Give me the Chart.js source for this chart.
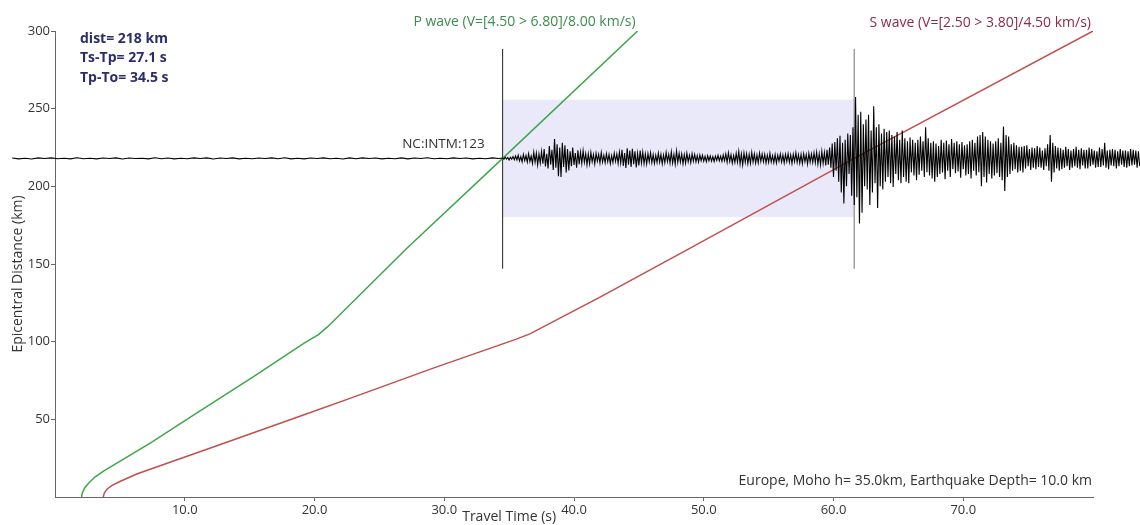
<!DOCTYPE html>
<html>
<head>
<meta charset="utf-8">
<script src="https://cdn.jsdelivr.net/npm/chart.js@4/dist/chart.umd.min.js"></script>
<style>
  html, body { margin: 0; padding: 0; background: #fff; }
  #wrap { width: 1140px; height: 525px; }
</style>
</head>
<body>
<div id="wrap"><canvas id="chart"></canvas></div>
<script>
// travel-time curves (time s, distance km)
const pTime = [2.05, 2.12, 2.3, 2.6, 3.1, 3.8, 7.4, 11.0, 15.3, 19.2, 20.3, 21.0, 27.1, 34.5, 44.9];
const pDist = [0, 3, 6, 9, 13, 17, 35, 54.5, 77.5, 99, 104.5, 109.5, 160, 218, 300];
const sTime = [3.72, 3.8, 4.0, 4.4, 5.0, 6.35, 12.8, 19.2, 23.0, 29.1, 35.5, 36.6, 41.9, 48.6, 61.6, 80.0];
const sDist = [0, 2.5, 5, 7.5, 10, 15, 34, 53, 64.3, 82.8, 101.5, 105, 128.2, 158.6, 218, 300];

// station + picks
const stationName = 'NC:INTM:123';
const stationDist = 218;
const pPick = 34.5;
const sPick = 61.6;
const pickLow = 147;
const pickHigh = 288.5;
const windowLow = 180.2;
const windowHigh = 255.7;

// seismogram, amplitude in km around the station distance
const noiseStart = -3.3;
const noiseStep = 0.5;
const noiseAmp = [
  0.2,-0.3,0.1,-0.4,0.3,-0.1,0.3,-0.2,0.1,-0.3,
  0.4,-0.2,0.1,-0.3,0.2,-0.1,0.3,-0.4,0.2,-0.1,
  0.1,-0.3,0.4,-0.2,0.2,-0.3,0.1,-0.2,0.3,-0.1,
  0.3,-0.4,0.2,-0.1,0.3,-0.3,0.1,-0.2,0.2,-0.1,
  0.3,-0.2,0.4,-0.3,0.1,-0.3,0.2,-0.1,0.3,-0.2,
  0.1,-0.4,0.3,-0.2,0.3,-0.1,0.2,-0.3,0.1,-0.2,
  0.3,-0.3,0.2,-0.1,0.4,-0.2,0.1,-0.2,0.3,-0.1,
  0.2,-0.3,0.1,-0.2,0.3,-0.1
];
const traceStart = 34.5;
const traceStep = 0.1;
const traceAmp = [
  0.2,-0.5,0.8,-0.4,0.6,-1.0,0.7,-0.5,1.2,-0.8,
  1.5,-1.0,2.0,-1.6,1.2,-2.2,2.6,-1.4,1.8,-2.4,
  3.0,-2.0,1.5,-3.2,4.0,-2.5,3.4,-4.2,2.8,-3.0,
  4.5,-3.5,6.0,-5.2,3.0,-6.5,8.0,-4.0,5.5,-7.5,
  12.5,-6.0,9.0,-11.5,7.0,-12.0,10.0,-5.5,8.5,-9.0,
  6.0,-7.8,4.5,-5.0,7.0,-4.2,3.5,-6.0,5.2,-3.8,
  4.0,-3.2,5.0,-2.5,3.0,-4.2,2.8,-3.5,3.8,-2.2,
  2.5,-3.6,3.2,-1.8,2.6,-3.0,3.8,-2.4,2.0,-2.8,
  3.0,-2.2,2.5,-3.4,1.8,-2.6,3.3,-2.0,2.8,-3.2,
  4.0,-3.0,5.5,-4.8,3.5,-6.2,6.5,-4.0,5.0,-5.5,
  6.2,-3.8,4.5,-5.8,3.2,-4.5,5.0,-3.0,4.0,-3.5,
  2.8,-3.6,3.0,-2.2,3.6,-2.8,2.4,-3.2,2.0,-2.6,
  3.4,-2.4,2.6,-3.5,2.2,-2.8,3.8,-2.0,2.6,-3.0,
  4.2,-3.0,2.5,-3.8,4.8,-2.6,3.2,-2.4,2.8,-3.4,
  2.4,-3.0,3.3,-2.2,2.0,-2.8,3.0,-1.8,2.5,-2.2,
  1.8,-2.4,2.2,-1.5,2.0,-1.8,1.4,-2.2,1.8,-1.5,
  1.6,-1.8,1.2,-2.0,1.5,-1.3,2.0,-1.6,1.4,-1.9,
  2.2,-1.6,2.8,-2.5,3.6,-2.0,2.4,-3.0,1.8,-2.6,
  3.2,-2.4,4.5,-3.6,2.8,-4.2,3.5,-2.6,3.0,-3.4,
  2.6,-3.2,3.8,-2.4,2.8,-3.0,2.2,-2.8,3.4,-2.0,
  2.8,-2.2,2.5,-3.0,2.0,-2.6,3.2,-2.4,1.8,-2.8,
  2.4,-3.0,2.0,-1.8,2.8,-2.4,2.2,-2.9,2.6,-2.0,
  3.0,-2.5,2.2,-3.3,2.7,-2.0,3.6,-2.6,2.4,-3.0,
  2.6,-3.4,3.0,-2.2,2.5,-3.6,3.2,-2.4,2.8,-2.6,
  3.5,-2.8,4.0,-3.6,3.0,-4.2,4.5,-3.2,3.8,-4.5,
  5.5,-4.0,7.0,-6.0,9.5,-12.0,10.5,-8.0,13.0,-15.0,
  14.5,-22.0,10.0,-29.0,12.0,-18.0,16.0,-10.0,15.0,-24.0,
  20.0,-30.0,39.5,-25.0,28.0,-42.0,30.0,-35.0,22.0,-18.0,
  25.0,-20.0,28.0,-30.0,18.0,-22.0,33.5,-16.0,20.0,-32.0,
  22.0,-18.0,16.0,-20.0,19.0,-15.0,17.0,-12.0,18.0,-16.0,
  15.0,-18.5,14.0,-10.0,17.0,-14.0,12.0,-16.0,18.0,-12.0,
  13.0,-15.0,11.0,-16.0,13.5,-9.0,12.0,-11.0,10.0,-14.0,
  12.0,-10.5,14.0,-8.0,11.0,-12.0,20.0,-9.0,13.0,-11.0,
  10.0,-13.0,11.0,-15.0,9.5,-12.0,8.0,-10.0,12.0,-9.0,
  10.0,-13.5,11.5,-8.0,9.0,-12.0,12.5,-7.0,10.0,-9.5,
  11.0,-8.5,9.0,-12.5,10.5,-7.0,8.5,-11.0,9.0,-10.0,
  11.0,-13.0,12.0,-8.0,10.0,-11.0,14.0,-9.0,15.0,-18.0,
  17.0,-12.0,14.0,-15.5,12.0,-10.0,11.0,-13.0,9.5,-11.0,
  11.0,-9.5,13.0,-12.0,10.0,-14.0,20.5,-21.0,15.0,-12.0,
  14.0,-10.0,9.0,-8.0,10.0,-7.0,8.5,-9.0,7.5,-8.0,
  7.5,-9.0,8.0,-6.5,8.5,-5.0,6.0,-7.5,7.0,-6.0,
  6.5,-7.0,8.0,-5.5,7.0,-6.0,5.0,-7.5,6.5,-5.0,
  9.0,-8.0,15.0,-15.0,10.0,-9.0,8.0,-6.5,7.0,-8.0,
  6.5,-7.0,5.5,-6.0,7.5,-5.0,6.0,-7.5,5.0,-6.0,
  6.0,-5.0,7.5,-6.0,5.5,-7.0,6.5,-4.5,5.5,-6.5,
  5.5,-6.5,7.0,-5.0,6.0,-4.0,5.0,-6.0,4.5,-5.5,
  7.0,-5.5,6.0,-4.5,10.0,-6.0,5.0,-7.0,5.5,-4.5,
  6.0,-5.0,5.5,-6.5,4.5,-5.0,6.0,-4.0,5.0,-5.5,
  5.0,-6.0,4.5,-5.0,6.0,-4.5,5.5,-4.0,5.0,-6.0,
  4.5,-5.0
];

const xMin = 0, xMax = 80, xStep = 10;
const yMin = 0, yMax = 300, yStep = 50;

const pLabel = 'P wave (V=[4.50 > 6.80]/8.00 km/s)';
const sLabel = 'S wave (V=[2.50 > 3.80]/4.50 km/s)';
const infoLines = ['dist= 218 km', 'Ts-Tp= 27.1 s', 'Tp-To= 34.5 s'];
const modelText = 'Europe, Moho h= 35.0km, Earthquake Depth= 10.0 km';
const xTitle = 'Travel Time (s)';
const yTitle = 'Epicentral Distance (km)';

const FONT = "'Open Sans', 'Noto Sans', sans-serif";

const pts = (xs, ys) => xs.map((x, i) => ({x: x, y: ys[i]}));
const trace = noiseAmp.map((a, i) => ({x: noiseStart + i * noiseStep, y: stationDist + a}))
  .concat(traceAmp.map((a, i) => ({x: traceStart + i * traceStep, y: stationDist + a})));

const overlay = {
  id: 'overlay',
  beforeDatasetsDraw(chart) {
    const {ctx, scales: {x, y}} = chart;
    ctx.save();
    ctx.fillStyle = '#e9e9f9';
    const l = x.getPixelForValue(pPick), r = x.getPixelForValue(sPick);
    const t = y.getPixelForValue(windowHigh), b = y.getPixelForValue(windowLow);
    ctx.fillRect(l, t, r - l, b - t);
    ctx.restore();
  },
  afterDraw(chart) {
    const {ctx, chartArea: a, scales: {x, y}} = chart;
    ctx.save();
    ctx.textBaseline = 'middle';

    ctx.font = '14px ' + FONT;
    ctx.fillStyle = '#3d8b4f';
    ctx.textAlign = 'right';
    ctx.fillText(pLabel, x.getPixelForValue(pTime[pTime.length - 1]) - 2, a.top - 9);
    ctx.fillStyle = '#8e2a48';
    ctx.fillText(sLabel, x.getPixelForValue(sTime[sTime.length - 1]) - 2, a.top - 8);

    ctx.fillStyle = '#333';
    ctx.font = '13.5px ' + FONT;
    ctx.fillText(stationName, x.getPixelForValue(pPick) - 18, y.getPixelForValue(stationDist) - 14);
    ctx.font = '14px ' + FONT;
    ctx.fillText(modelText, a.right - 1, a.bottom - 16);

    ctx.textAlign = 'center';
    ctx.fillText(xTitle, x.getPixelForValue(35.0), 517);
    ctx.save();
    ctx.translate(18, (a.top + a.bottom) / 2 + 10);
    ctx.rotate(-Math.PI / 2);
    ctx.fillText(yTitle, 0, 0);
    ctx.restore();

    ctx.font = 'bold 14px ' + FONT;
    ctx.fillStyle = '#2b2d6b';
    ctx.textAlign = 'left';
    infoLines.forEach((s, i) => ctx.fillText(s, a.left + 25, a.top + 8 + i * 19.3));
    ctx.restore();
  }
};

new Chart(document.getElementById('chart'), {
  type: 'scatter',
  data: {
    datasets: [
      { data: trace, showLine: true, borderColor: '#000', borderWidth: 1.1, pointRadius: 0, clip: false },
      { data: pts(pTime, pDist), showLine: true, borderColor: '#3fa64a', borderWidth: 1.5, pointRadius: 0 },
      { data: pts(sTime, sDist), showLine: true, borderColor: '#c0504d', borderWidth: 1.5, pointRadius: 0 },
      { data: [{x: pPick, y: pickLow}, {x: pPick, y: pickHigh}], showLine: true, borderColor: '#222', borderWidth: 1, pointRadius: 0 },
      { data: [{x: sPick, y: pickLow}, {x: sPick, y: pickHigh}], showLine: true, borderColor: '#a0a0a0', borderWidth: 1.5, pointRadius: 0 }
    ]
  },
  options: {
    responsive: true,
    maintainAspectRatio: false,
    animation: false,
    layout: { padding: { top: 31, right: 47, left: 0, bottom: 0 } },
    plugins: { legend: { display: false }, tooltip: { enabled: false } },
    scales: {
      x: {
        type: 'linear',
        afterDataLimits(s) { s.min = xMin; s.max = xMax; },
        afterFit(s) { s.height = 28; },
        border: { display: true, color: '#666', width: 1 },
        grid: { display: true, drawOnChartArea: false, drawTicks: true, tickLength: 4, color: '#666' },
        ticks: {
          stepSize: xStep, padding: 1, color: '#333', font: { family: FONT, size: 13 },
          maxRotation: 0,
          callback: v => (v === xMin || v === xMax) ? null : v.toFixed(1)
        }
      },
      y: {
        type: 'linear',
        min: yMin, max: yMax,
        afterFit(s) { s.width = 55; },
        border: { display: true, color: '#666', width: 1 },
        grid: { display: true, drawOnChartArea: false, drawTicks: true, tickLength: 4, color: '#666' },
        ticks: {
          stepSize: yStep, padding: 1, color: '#333', font: { family: FONT, size: 13 },
          callback: v => v === yMin ? null : v
        }
      }
    }
  },
  plugins: [overlay]
});
</script>
</body>
</html>
